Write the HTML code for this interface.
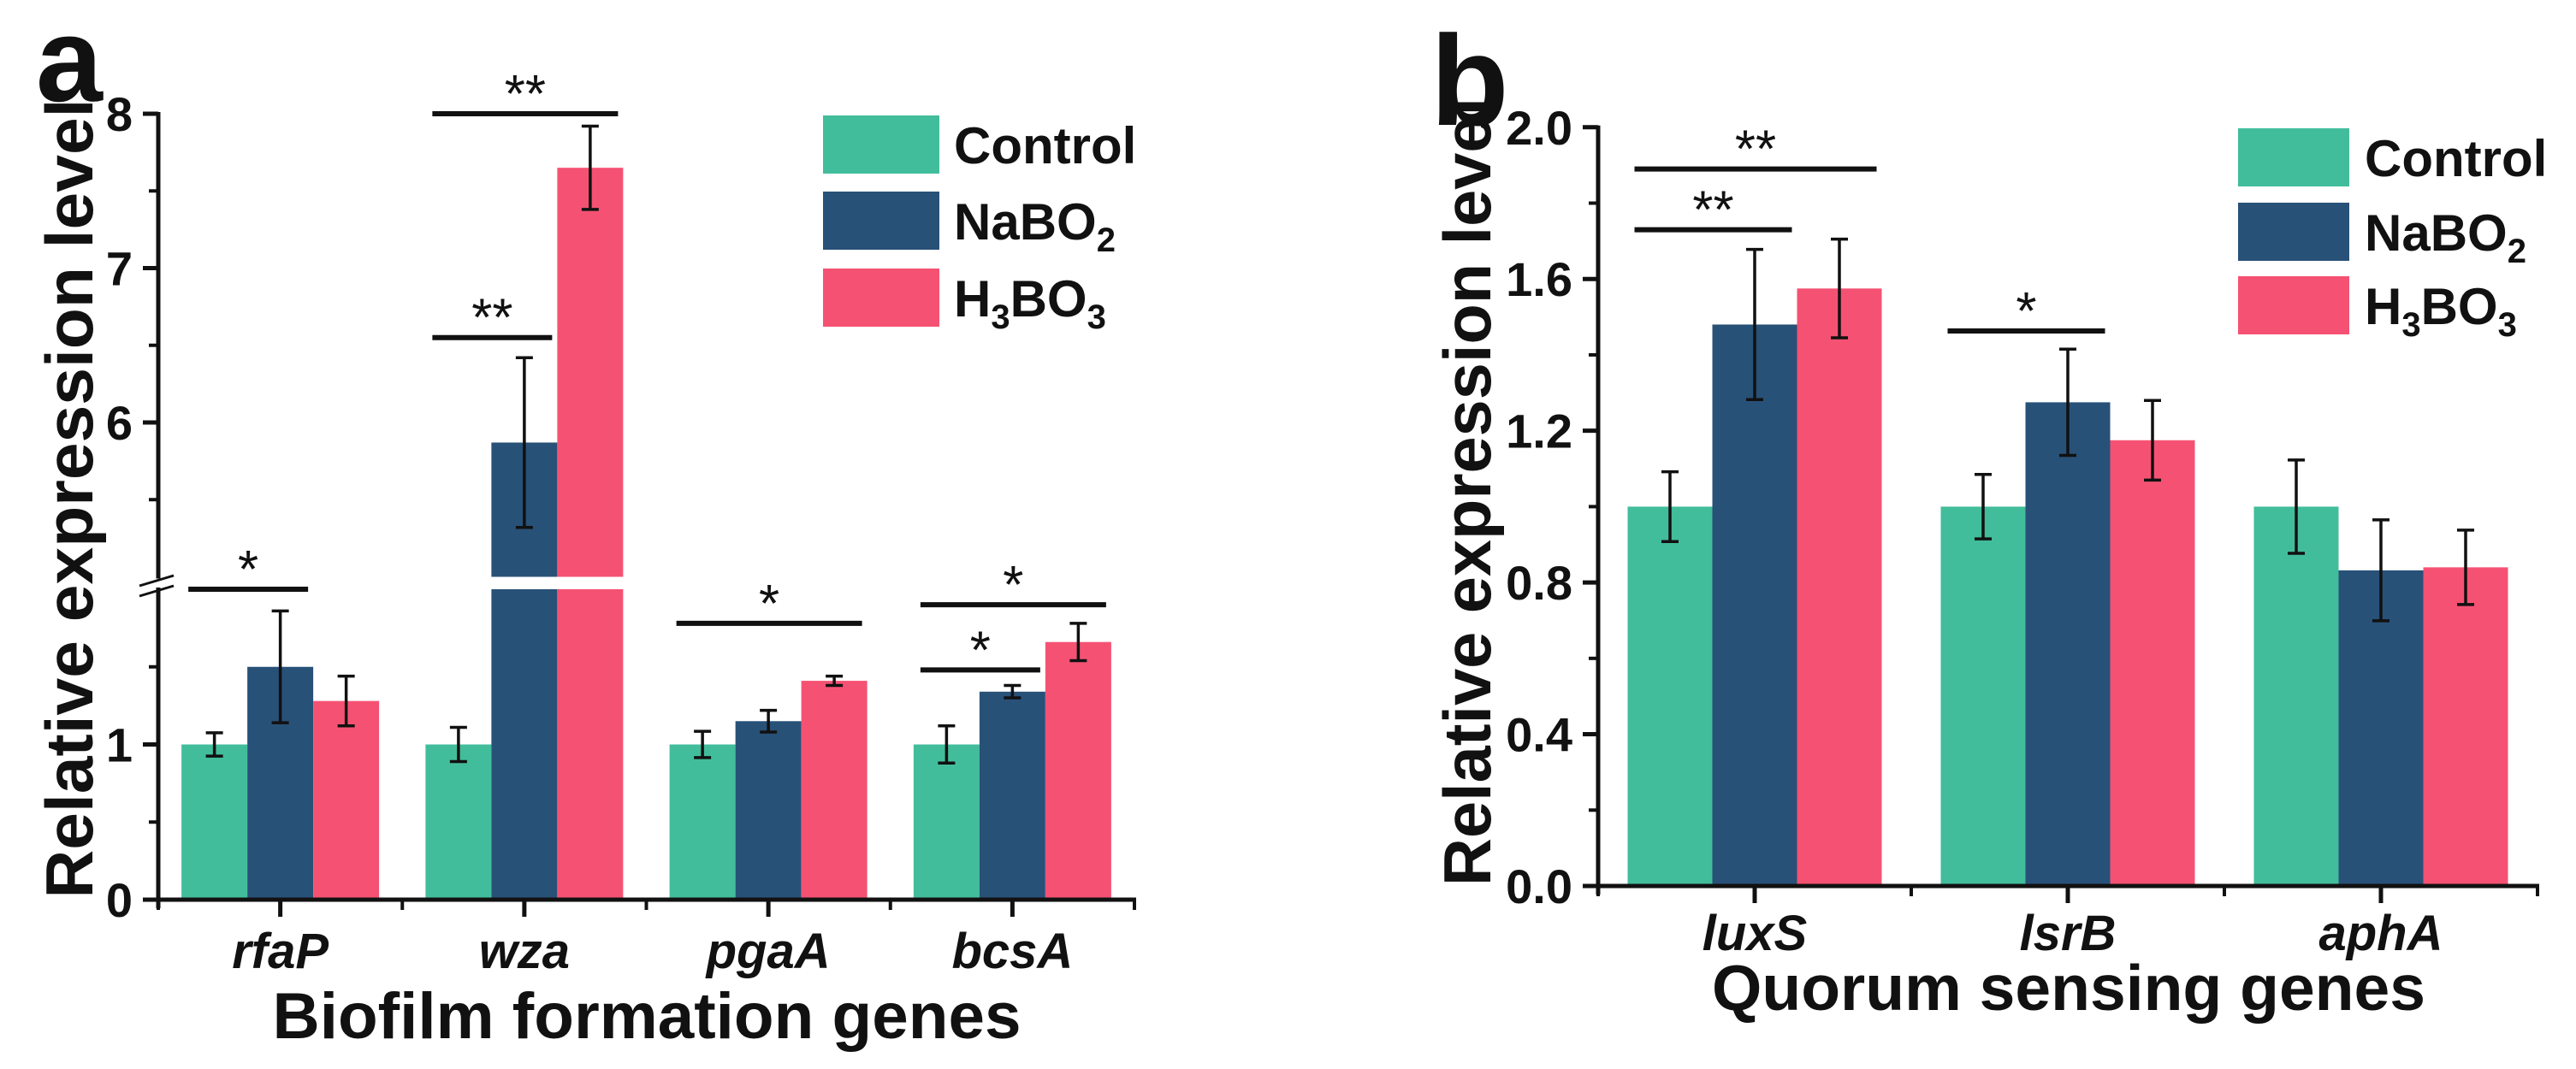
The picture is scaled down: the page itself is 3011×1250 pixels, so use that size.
<!DOCTYPE html>
<html><head><meta charset="utf-8"><title>Relative expression: biofilm and quorum sensing genes</title>
<style>
html,body{margin:0;padding:0;background:#fff;}
svg{display:block;font-family:"Liberation Sans",Arial,sans-serif;}
</style></head>
<body>
<svg id="fig" width="3011" height="1250" viewBox="0 0 3011 1250" xmlns="http://www.w3.org/2000/svg">
<rect x="0" y="0" width="3011" height="1250" fill="#fff"/>
</svg>
<script>
// ---------- Panel a data ----------
const aGenes = ["rfaP", "wza", "pgaA", "bcsA"];
const aControl = [1.0, 1.0, 1.0, 1.0];
const aControlErr = [0.075, 0.11, 0.085, 0.12];
const aNaBO2 = [1.5, 5.87, 1.15, 1.34];
const aNaBO2Err = [0.36, 0.55, 0.07, 0.04];
const aH3BO3 = [1.28, 7.65, 1.41, 1.66];
const aH3BO3Err = [0.16, 0.27, 0.03, 0.12];
const aLowerTicks = [0, 1];
const aUpperTicks = [6, 7, 8];
const aLowerMinor = [0.5, 1.5];
const aUpperMinor = [5.5, 6.5, 7.5];
// significance: [groupIndex, fromSeries, toSeries, yValue, label]
const aSig = [[0, 0, 1, 2.0, "*"], [1, 0, 1, 6.55, "**"], [1, 0, 2, 8.0, "**"], [2, 0, 2, 1.78, "*"], [3, 0, 1, 1.48, "*"], [3, 0, 2, 1.9, "*"]];

// ---------- Panel b data ----------
const bGenes = ["luxS", "lsrB", "aphA"];
const bControl = [1.0, 1.0, 1.0];
const bControlErr = [0.092, 0.085, 0.123];
const bNaBO2 = [1.48, 1.275, 0.832];
const bNaBO2Err = [0.198, 0.14, 0.133];
const bH3BO3 = [1.575, 1.175, 0.84];
const bH3BO3Err = [0.13, 0.105, 0.098];
const bTicks = [0.0, 0.4, 0.8, 1.2, 1.6, 2.0];
const bTickLabels = ["0.0", "0.4", "0.8", "1.2", "1.6", "2.0"];
const bMinor = [0.2, 0.6, 1.0, 1.4, 1.8];
const bSig = [[0, 0, 2, 1.89, "**"], [0, 0, 1, 1.73, "**"], [1, 0, 1, 1.463, "*"]];

const colors = ["#42BD9B", "#285178", "#F55273"];
const seriesNames = ["Control", "NaBO2", "H3BO3"];

const NS = "http://www.w3.org/2000/svg";
const svg = document.getElementById("fig");
function mk(tag, attrs, parent) {
  const e = document.createElementNS(NS, tag);
  for (const k in attrs) e.setAttribute(k, attrs[k]);
  (parent || svg).appendChild(e);
  return e;
}

// ---------- Panel a axes ----------
const A = {x0: 185, x1: 1326, y0: 1052, lowPx: 181.5, upTop: 133, upPx: 180.5, brk: 5, lowMax: 2, bw: 77};
function ayA(v) {
  if (v <= A.lowMax) return A.y0 - v * A.lowPx;
  return A.upTop + (8 - v) * A.upPx;
}
const aSlot = (A.x1 - A.x0) / aGenes.length;
function axA(i) { return A.x0 + aSlot * (i + 0.5); }

// ---------- Panel b axes ----------
const B = {x0: 1868, x1: 2966, y0: 1036, px: 443.6, bw: 99};
function ayB(v) { return B.y0 - v * B.px; }
const bSlot = (B.x1 - B.x0) / bGenes.length;
function axB(i) { return B.x0 + bSlot * (i + 0.5); }

// ---------- draw bars ----------
function drawBars(gName, genes, vals, errs, axf, ayf, bw, panel, broken) {
  const g = mk("g", {});
  
  
  genes.forEach((gene, i) => {
    for (let s = 0; s < 3; s++) {
      const v = vals[s][i];
      const x = axf(i) + (s - 1.5) * bw;
      if (broken && v > A.lowMax) {
        const r1 = mk("rect", {x: x, y: ayf(A.lowMax), width: bw, height: ayf(0) - ayf(A.lowMax), fill: colors[s]}, g);
        
        
        const r2 = mk("rect", {x: x, y: ayf(v), width: bw, height: ayf(A.brk) - ayf(v), fill: colors[s]}, g);
        
        
      } else {
        const r = mk("rect", {x: x, y: ayf(v), width: bw, height: ayf(0) - ayf(v), fill: colors[s]}, g);
        
        
      }
      const e = errs[s][i];
      const cx = x + bw / 2;
      const eg = mk("g", {stroke: "#111", "stroke-width": 3.5}, g);
      
      
      mk("line", {x1: cx, x2: cx, y1: ayf(v + e), y2: ayf(v - e)}, eg);
      mk("line", {x1: cx - 10, x2: cx + 10, y1: ayf(v + e), y2: ayf(v + e)}, eg);
      mk("line", {x1: cx - 10, x2: cx + 10, y1: ayf(v - e), y2: ayf(v - e)}, eg);
    }
  });
}
drawBars("a", aGenes, [aControl, aNaBO2, aH3BO3], [aControlErr, aNaBO2Err, aH3BO3Err], axA, ayA, A.bw, "panel-a", true);
drawBars("b", bGenes, [bControl, bNaBO2, bH3BO3], [bControlErr, bNaBO2Err, bH3BO3Err], axB, ayB, B.bw, "panel-b", false);

// ---------- significance ----------
function drawSig(list, axf, ayf, bw, panel) {
  list.forEach((s, k) => {
    const [gi, a, b, v, lab] = s;
    const xa = axf(gi) + (a - 1.5) * bw + 8;
    const xb = axf(gi) + (b - 0.5) * bw - 6;
    const y = ayf(v);
    const l = mk("line", {x1: xa, x2: xb, y1: y, y2: y, stroke: "#111", "stroke-width": 6});
    
    
    const t = mk("text", {x: (xa + xb) / 2, y: y - 2, "text-anchor": "middle", "font-size": 62, fill: "#111"});
    t.textContent = lab;
    
    
  });
}
drawSig(aSig, axA, ayA, A.bw, "panel-a");
drawSig(bSig, axB, ayB, B.bw, "panel-b");

// ---------- panel a axes drawing ----------
(function () {
  const g = mk("g", {stroke: "#111", "stroke-width": 5, fill: "none"});
  
  
  // lower y axis
  mk("line", {x1: A.x0, x2: A.x0, y1: A.y0 + 10, y2: ayA(A.lowMax) - 2}, g);
  // upper y axis
  mk("line", {x1: A.x0, x2: A.x0, y1: A.upTop - 2, y2: ayA(A.brk) + 2}, g);
  // x axis
  mk("line", {x1: A.x0 - 18, x2: A.x1 + 2, y1: A.y0, y2: A.y0}, g);
  // break marks
  mk("line", {x1: A.x0 - 22, x2: A.x0 + 18, y1: 685, y2: 673, "stroke-width": 3}, g);
  mk("line", {x1: A.x0 - 22, x2: A.x0 + 18, y1: 697, y2: 685, "stroke-width": 3}, g);
  aLowerTicks.concat(aUpperTicks).forEach(v => {
    mk("line", {x1: A.x0 - 18, x2: A.x0, y1: ayA(v), y2: ayA(v)}, g);
  });
  aLowerMinor.concat(aUpperMinor).forEach(v => {
    mk("line", {x1: A.x0 - 11, x2: A.x0, y1: ayA(v), y2: ayA(v), "stroke-width": 4}, g);
  });
  for (let i = 0; i <= aGenes.length; i++) {
    const x = A.x0 + aSlot * i;
    mk("line", {x1: x, x2: x, y1: A.y0, y2: A.y0 + 12, "stroke-width": 4}, g);
  }
  aGenes.forEach((gene, i) => {
    mk("line", {x1: axA(i), x2: axA(i), y1: A.y0, y2: A.y0 + 20}, g);
  });
  aLowerTicks.concat(aUpperTicks).forEach(v => {
    const t = mk("text", {x: 155, y: ayA(v) + 20, "text-anchor": "end", "font-size": 56, "font-weight": "bold", fill: "#111"});
    t.textContent = String(v);
    
    
  });
  aGenes.forEach((gene, i) => {
    const t = mk("text", {x: axA(i), y: 1132, "text-anchor": "middle", "font-size": 58, "font-weight": "bold", "font-style": "italic", fill: "#111"});
    t.textContent = gene;
    
    
  });
})();

// ---------- panel b axes drawing ----------
(function () {
  const g = mk("g", {stroke: "#111", "stroke-width": 5, fill: "none"});
  
  
  mk("line", {x1: B.x0, x2: B.x0, y1: B.y0 + 10, y2: ayB(2.0) - 2}, g);
  mk("line", {x1: B.x0 - 18, x2: B.x1 + 2, y1: B.y0, y2: B.y0}, g);
  bTicks.forEach(v => mk("line", {x1: B.x0 - 18, x2: B.x0, y1: ayB(v), y2: ayB(v)}, g));
  bMinor.forEach(v => mk("line", {x1: B.x0 - 11, x2: B.x0, y1: ayB(v), y2: ayB(v), "stroke-width": 4}, g));
  for (let i = 0; i <= bGenes.length; i++) {
    const x = B.x0 + bSlot * i;
    mk("line", {x1: x, x2: x, y1: B.y0, y2: B.y0 + 12, "stroke-width": 4}, g);
  }
  bGenes.forEach((gene, i) => mk("line", {x1: axB(i), x2: axB(i), y1: B.y0, y2: B.y0 + 20}, g));
  bTicks.forEach((v, k) => {
    const t = mk("text", {x: 1838, y: ayB(v) + 20, "text-anchor": "end", "font-size": 56, "font-weight": "bold", fill: "#111"});
    t.textContent = bTickLabels[k];
    
    
  });
  bGenes.forEach((gene, i) => {
    const t = mk("text", {x: axB(i), y: 1111, "text-anchor": "middle", "font-size": 58, "font-weight": "bold", "font-style": "italic", fill: "#111"});
    t.textContent = gene;
    
    
  });
})();

// ---------- legends ----------
function legend(panel, sx, sw, ys, tx) {
  const g = mk("g", {});
  
  
  const labels = [["Control"], ["NaBO", "2"], ["H", "3", "BO", "3"]];
  for (let s = 0; s < 3; s++) {
    const r = mk("rect", {x: sx, y: ys[s], width: sw, height: 68, fill: colors[s]}, g);
    
    
    const t = mk("text", {x: tx, y: ys[s] + 56, "font-size": 60, "font-weight": "bold", fill: "#111"}, g);
    
    
    const parts = labels[s];
    parts.forEach((p, k) => {
      const isSub = (parts.length === 2 && k === 1) || (parts.length === 4 && (k === 1 || k === 3));
      const ts = mk("tspan", isSub ? {"font-size": 40, dy: 14} : (k > 0 ? {dy: -14} : {}), t);
      ts.textContent = p;
    });
  }
}
legend("panel-a", 962, 136, [135, 224, 314], 1115);
legend("panel-b", 2616, 130, [150, 237, 323], 2764);

// ---------- titles ----------
(function () {
  const t1 = mk("text", {x: 0, y: 0, transform: "translate(108,583) rotate(-90)", "text-anchor": "middle", "font-size": 78, "font-weight": "bold", fill: "#111", textLength: 935, lengthAdjust: "spacingAndGlyphs"});
  t1.textContent = "Relative expression level";
  
  
  const t2 = mk("text", {x: 0, y: 0, transform: "translate(1742,575) rotate(-90)", "text-anchor": "middle", "font-size": 78, "font-weight": "bold", fill: "#111", textLength: 922, lengthAdjust: "spacingAndGlyphs"});
  t2.textContent = "Relative expression level";
  
  
  const x1 = mk("text", {x: 756, y: 1214, "text-anchor": "middle", "font-size": 76, "font-weight": "bold", fill: "#111", textLength: 875, lengthAdjust: "spacingAndGlyphs"});
  x1.textContent = "Biofilm formation genes";
  
  
  const x2 = mk("text", {x: 2418, y: 1181, "text-anchor": "middle", "font-size": 75, "font-weight": "bold", fill: "#111", textLength: 834, lengthAdjust: "spacingAndGlyphs"});
  x2.textContent = "Quorum sensing genes";
  
  
  const pa = mk("text", {x: 42, y: 118, "font-size": 140, "font-weight": "bold", fill: "#111"});
  pa.textContent = "a";
  
  
  const pb = mk("text", {x: 1672, y: 146, "font-size": 150, "font-weight": "bold", fill: "#111"});
  pb.textContent = "b";
  
  
})();
</script>
</body></html>
